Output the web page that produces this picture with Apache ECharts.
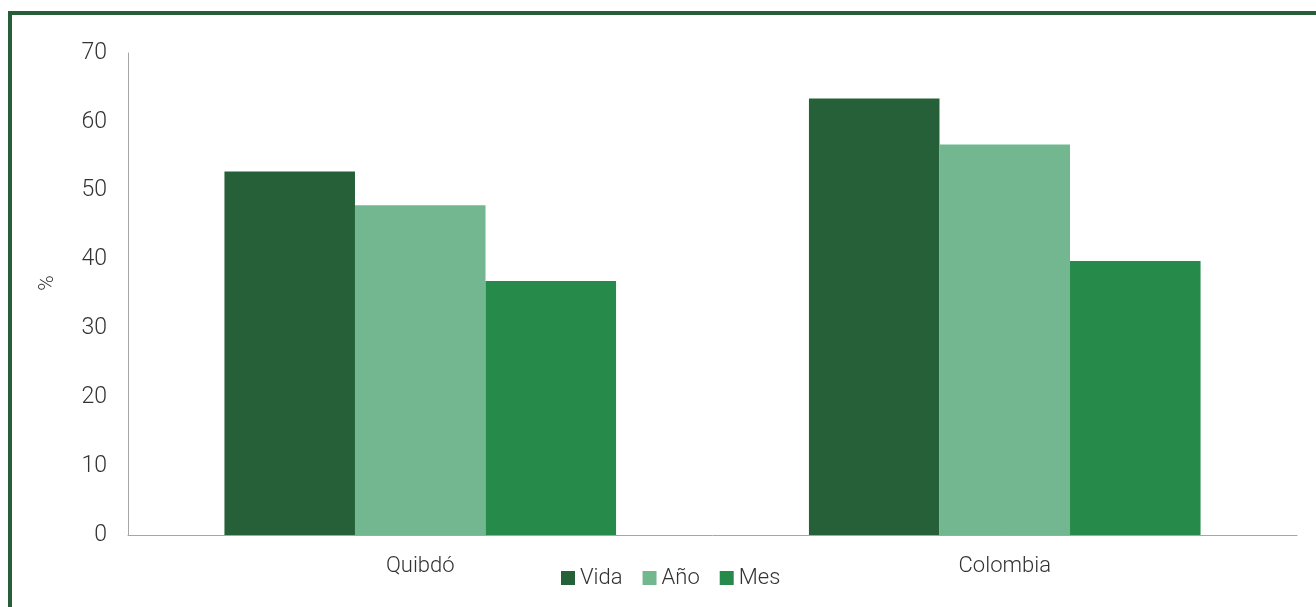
<!DOCTYPE html>
<html>
<head>
<meta charset="utf-8">
<script src="https://cdn.jsdelivr.net/npm/echarts@6/dist/echarts.min.js"></script>
<style>
  html, body { margin: 0; padding: 0; background: #ffffff; }
  #chart { width: 1316px; height: 607px; }
</style>
</head>
<body>
<div id="chart"></div>
<script>
// Categories, series and axis ticks
const categories = ['Quibdó', 'Colombia'];
const seriesNames = ['Vida', 'Año', 'Mes'];
const vida = [52.8, 63.4];
const anio = [47.9, 56.7];
const mes = [36.9, 39.8];
const yTicks = [0, 10, 20, 30, 40, 50, 60, 70];

const colors = ['#256038', '#73b791', '#268a4a'];
const textColor = '#333333';
const font = 'Roboto';
const weight = 300;

const chart = echarts.init(document.getElementById('chart'), null, { renderer: 'canvas' });

chart.setOption({
  animation: false,
  backgroundColor: '#ffffff',
  color: colors,
  textStyle: { fontFamily: font, color: textColor, fontWeight: weight },
  graphic: [
    {
      // frame around the figure
      type: 'rect',
      shape: { x: 10, y: 13, width: 1400, height: 700 },
      style: { fill: 'none', stroke: '#285e37', lineWidth: 4 },
      silent: true,
      z: 100
    }
  ],
  grid: { left: 128, right: 19, top: 53, bottom: 72, containLabel: false },
  legend: {
    data: seriesNames,
    left: 556,
    top: 562,
    itemWidth: 14,
    itemHeight: 14,
    itemGap: 20,
    icon: 'rect',
    textStyle: { fontFamily: font, fontSize: 22, fontWeight: weight, color: textColor }
  },
  xAxis: {
    type: 'category',
    data: categories,
    axisLine: { lineStyle: { color: '#a6a6a6', width: 1 } },
    axisTick: { show: false },
    axisLabel: { fontFamily: font, fontSize: 22, fontWeight: weight, color: textColor, margin: 20 }
  },
  yAxis: {
    type: 'value',
    min: yTicks[0],
    max: yTicks[yTicks.length - 1],
    interval: 10,
    name: '%',
    nameLocation: 'middle',
    nameRotate: 90,
    nameGap: 70,
    nameTextStyle: { fontFamily: font, fontSize: 21, fontWeight: weight, color: textColor, padding: [0, 0, 0, 22] },
    axisLine: { show: true, lineStyle: { color: '#a6a6a6', width: 1 } },
    axisTick: { show: false },
    splitLine: { show: false },
    axisLabel: { fontFamily: font, fontSize: 23, fontWeight: weight, color: textColor, margin: 21 }
  },
  series: [
    { name: seriesNames[0], type: 'bar', data: vida, barGap: '0%', barCategoryGap: '33%' },
    { name: seriesNames[1], type: 'bar', data: anio, barGap: '0%', barCategoryGap: '33%' },
    { name: seriesNames[2], type: 'bar', data: mes, barGap: '0%', barCategoryGap: '33%' }
  ]
});
</script>
</body>
</html>
